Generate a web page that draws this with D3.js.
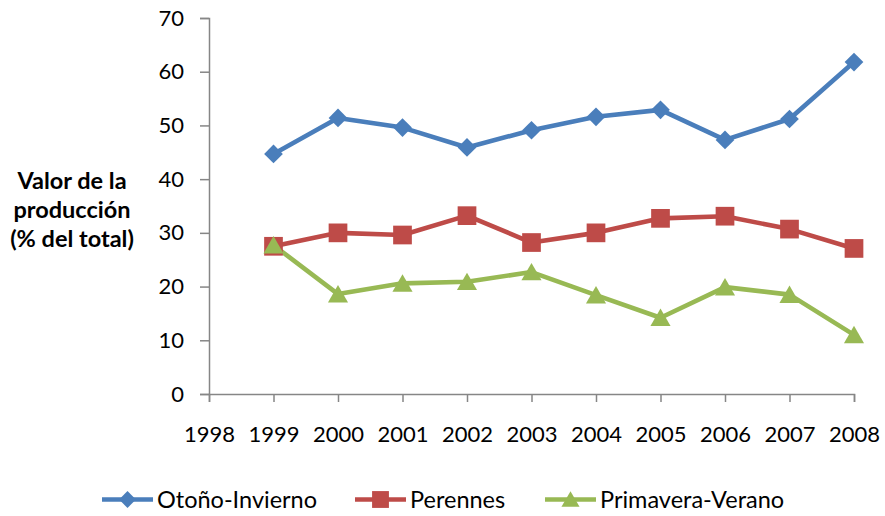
<!DOCTYPE html>
<html>
<head>
<meta charset="utf-8">
<script src="https://cdn.jsdelivr.net/npm/d3@7"></script>
<style>
  html, body { margin: 0; padding: 0; background: #fff; }
  svg { display: block; font-family: Lato, "Open Sans", sans-serif; }
</style>
</head>
<body>
<svg id="chart" width="885" height="516"></svg>
<script>
// Years on the horizontal axis
const years = [1999, 2000, 2001, 2002, 2003, 2004, 2005, 2006, 2007, 2008];
const xTicks = [1998, 1999, 2000, 2001, 2002, 2003, 2004, 2005, 2006, 2007, 2008];
const yTicks = [0, 10, 20, 30, 40, 50, 60, 70];

// Share of production value (% of total) by season
const otonoInvierno   = [44.7, 51.4, 49.6, 45.9, 49.1, 51.6, 52.9, 47.3, 51.2, 61.8];
const perennes        = [27.5, 30.0, 29.6, 33.2, 28.2, 30.0, 32.7, 33.1, 30.7, 27.1];
const primaveraVerano = [27.7, 18.6, 20.6, 20.9, 22.7, 18.4, 14.2, 19.9, 18.5, 11.0];

const seriesNames = ["Otoño-Invierno", "Perennes", "Primavera-Verano"];
const seriesColors = ["#4A7EBB", "#BE4B48", "#98B954"];
const seriesValues = [otonoInvierno, perennes, primaveraVerano];

const svg = d3.select("#chart");
const x = d3.scaleLinear().domain([1998, 2008]).range([209, 854]);
const y = d3.scaleLinear().domain([0, 70]).range([394, 18]);
const axisColor = "#868686";

// Marker shapes: diamond (rotated square), square, triangle
const markers = [
  { path: d3.symbol().type(d3.symbolSquare).size(175)(), rotate: 45, dy: 0 },
  { path: d3.symbol().type(d3.symbolSquare).size(350)(), rotate: 0, dy: 0 },
  { path: d3.symbol().type(d3.symbolTriangle).size(175)(), rotate: 0, dy: 2.5 }
];

// Y axis
const yAxis = svg.append("g").attr("transform", "translate(209,0)")
  .call(d3.axisLeft(y).tickValues(yTicks).tickSize(9).tickPadding(16).tickFormat(d3.format("d")));
// X axis
const xAxis = svg.append("g").attr("transform", "translate(0,394)")
  .call(d3.axisBottom(x).tickValues(xTicks).tickSize(8).tickPadding(24).tickFormat(d3.format("d")));

[yAxis, xAxis].forEach(g => {
  g.select(".domain").attr("stroke", axisColor).attr("stroke-width", 1.5);
  g.selectAll(".tick line").attr("stroke", axisColor).attr("stroke-width", 1.5);
  g.selectAll(".tick text").attr("fill", "#000").style("font-size", "22px").style("font-family", "Lato, sans-serif");
});

// Y axis title
const title = svg.append("text")
  .attr("text-anchor", "middle")
  .style("font-size", "23.5px").style("font-weight", "bold");
["Valor de la", "producción", "(% del total)"].forEach((t, i) => {
  title.append("tspan").attr("x", 72).attr("y", 189 + i * 28.8).text(t);
});

// Lines and markers
const line = d3.line().x((d, i) => x(years[i])).y(d => y(d));
seriesValues.forEach((vals, s) => {
  svg.append("path").datum(vals)
    .attr("d", line)
    .attr("fill", "none")
    .attr("stroke", seriesColors[s])
    .attr("stroke-width", 4.6)
    .attr("stroke-linejoin", "round");
});
seriesValues.forEach((vals, s) => {
  const m = markers[s];
  svg.append("g").selectAll("path").data(vals).join("path")
    .attr("transform", (d, i) => `translate(${x(years[i])},${y(d) + m.dy}) rotate(${m.rotate})`)
    .attr("d", m.path)
    .attr("fill", seriesColors[s]);
});

// Legend
const legendX = [102, 355, 545];
const legend = svg.append("g");
seriesNames.forEach((name, s) => {
  const m = markers[s];
  const g = legend.append("g").attr("transform", `translate(${legendX[s]},499.5)`);
  g.append("line").attr("x1", 0).attr("x2", 51).attr("y1", 0).attr("y2", 0)
    .attr("stroke", seriesColors[s]).attr("stroke-width", 4.6);
  g.append("path").attr("transform", `translate(25.5,${m.dy * 0.85}) rotate(${m.rotate}) scale(0.9)`)
    .attr("d", m.path)
    .attr("fill", seriesColors[s]);
  g.append("text").attr("x", 55).attr("y", 8.5)
    .style("font-size", "23.5px").attr("fill", "#000").text(name);
});
</script>
</body>
</html>
